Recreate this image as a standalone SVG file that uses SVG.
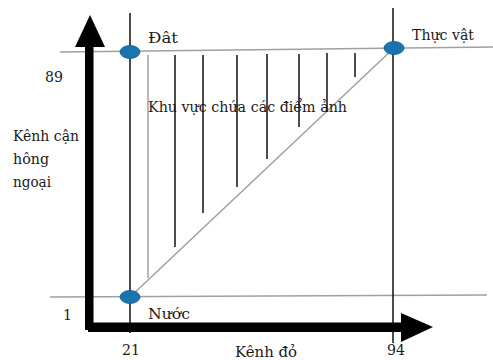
<svg xmlns="http://www.w3.org/2000/svg" width="493" height="360" viewBox="0 0 493 360">
<style>
text{font-family:'DejaVu Serif','Liberation Serif',serif;fill:#1a1a1a}
.t{font-size:15px}
.n{font-size:14px}
.gray{stroke:#a0a0a0;stroke-width:1.5;fill:none}
.blk{stroke:#111;stroke-width:1.5;fill:none}
.pt{fill:#1a74b0;stroke:#0f5a8c;stroke-width:0.8}
</style>
<rect width="493" height="360" fill="#fff"/>
<g id="connectors">
  <line class="gray" x1="60" y1="52" x2="493" y2="47"/>
  <line class="gray" x1="50" y1="297" x2="487" y2="295"/>
  <line class="blk" x1="130" y1="13" x2="130" y2="333"/>
  <line class="blk" x1="393" y1="8" x2="393" y2="343"/>
  <line class="gray" x1="130" y1="297" x2="394" y2="48"/>
  <line class="gray" x1="148" y1="55" x2="148" y2="278"/>
  <line class="blk" x1="175" y1="55" x2="175" y2="247"/>
  <line class="blk" x1="203" y1="55" x2="203" y2="213"/>
  <line class="blk" x1="237" y1="55" x2="237" y2="187"/>
  <line class="blk" x1="267" y1="54" x2="267" y2="159"/>
  <line class="blk" x1="299" y1="54" x2="299" y2="127"/>
  <line class="blk" x1="327" y1="53" x2="327" y2="112"/>
  <line class="blk" x1="355" y1="53" x2="355" y2="77"/>
  <rect x="85" y="44" width="8.5" height="286" fill="#000"/>
  <polygon points="90,15 105,47 75,47" fill="#000"/>
  <rect x="88" y="322.5" width="316" height="9.5" fill="#000"/>
  <polygon points="433,327 401,313 401,342" fill="#000"/>
</g>
<g id="dat">
  <ellipse class="pt" cx="130" cy="52" rx="10" ry="6.5"/>
  <text class="t" x="148" y="43" textLength="30" lengthAdjust="spacingAndGlyphs">Đât</text>
</g>
<g id="thucvat">
  <ellipse class="pt" cx="394" cy="48" rx="10" ry="6.5"/>
  <text class="t" x="412" y="40" textLength="62" lengthAdjust="spacingAndGlyphs">Thực vật</text>
</g>
<g id="nuoc">
  <ellipse class="pt" cx="130" cy="297" rx="10" ry="6.5"/>
  <text class="t" x="148" y="319" textLength="42" lengthAdjust="spacingAndGlyphs">Nước</text>
</g>
<g id="region">
  <text class="t" x="148" y="112" textLength="199" lengthAdjust="spacingAndGlyphs">Khu vực chứa các điểm ảnh</text>
</g>
<g id="labels">
  <text class="n" x="45" y="82" textLength="18" lengthAdjust="spacingAndGlyphs">89</text>
  <text class="n" x="63" y="320">1</text>
  <text class="n" x="122" y="355" textLength="18" lengthAdjust="spacingAndGlyphs">21</text>
  <text class="n" x="387" y="355" textLength="18" lengthAdjust="spacingAndGlyphs">94</text>
  <text class="t" x="13" y="141" textLength="66" lengthAdjust="spacingAndGlyphs">Kênh cận</text>
  <text class="t" x="13" y="164" textLength="36" lengthAdjust="spacingAndGlyphs">hông</text>
  <text class="t" x="13" y="187" textLength="38" lengthAdjust="spacingAndGlyphs">ngoại</text>
  <text class="t" x="235" y="357" textLength="62" lengthAdjust="spacingAndGlyphs">Kênh đỏ</text>
</g>
</svg>
